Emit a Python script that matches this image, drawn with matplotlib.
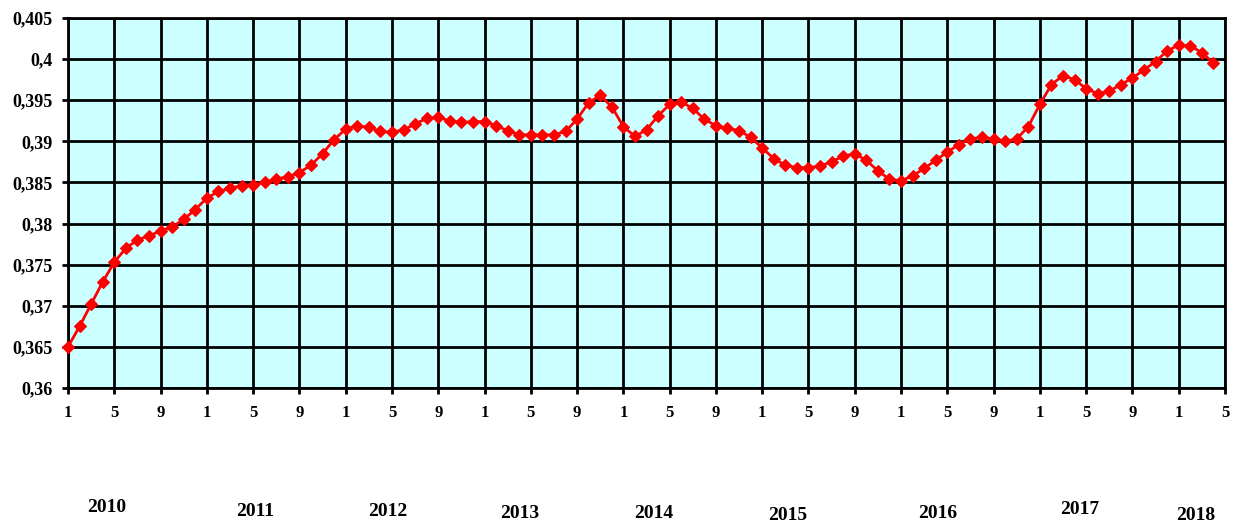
import matplotlib
matplotlib.use("Agg")
import matplotlib.pyplot as plt
import numpy as np

# Monthly values, Jan 2010 .. Apr 2018
values = [
    0.3650, 0.3675, 0.3702, 0.3729, 0.3753, 0.3770, 0.3780, 0.3785, 0.3791, 0.3796, 0.3805, 0.3817,  # 2010
    0.3831, 0.3839, 0.3843, 0.3846, 0.3847, 0.3850, 0.3854, 0.3857, 0.3862, 0.3871, 0.3885, 0.3902,  # 2011
    0.3915, 0.3919, 0.3917, 0.3912, 0.3911, 0.3914, 0.3921, 0.3928, 0.3929, 0.3925, 0.3923, 0.3924,  # 2012
    0.3924, 0.3919, 0.3913, 0.3908, 0.3908, 0.3908, 0.3908, 0.3912, 0.3927, 0.3947, 0.3956, 0.3942,  # 2013
    0.3918, 0.3906, 0.3914, 0.3931, 0.3945, 0.3948, 0.3940, 0.3927, 0.3919, 0.3916, 0.3913, 0.3905,  # 2014
    0.3892, 0.3879, 0.3871, 0.3868, 0.3868, 0.3870, 0.3875, 0.3882, 0.3885, 0.3877, 0.3864, 0.3854,  # 2015
    0.3852, 0.3858, 0.3867, 0.3877, 0.3887, 0.3896, 0.3903, 0.3905, 0.3903, 0.3900, 0.3903, 0.3918,  # 2016
    0.3945, 0.3969, 0.3980, 0.3975, 0.3964, 0.3958, 0.3961, 0.3969, 0.3977, 0.3987, 0.3997, 0.4010,  # 2017
    0.4017, 0.4016, 0.4008, 0.3995,                                                                  # 2018
]
n_months = 101  # Jan 2010 .. May 2018 on the axis
month_tick_labels = ["1", "5", "9"] * 8 + ["1", "5"]
y_ticks = [0.36, 0.365, 0.37, 0.375, 0.38, 0.385, 0.39, 0.395, 0.4, 0.405]
y_tick_labels = ["0,36", "0,365", "0,37", "0,375", "0,38", "0,385", "0,39", "0,395", "0,4", "0,405"]
years = ["2010", "2011", "2012", "2013", "2014", "2015", "2016", "2017", "2018"]

W, H = 1242, 524
fig = plt.figure(figsize=(W / 100, H / 100), dpi=100)
ax = fig.add_axes([68 / W, 1 - 388 / H, (1225 - 68) / W, (388 - 18) / H])
ax.set_facecolor("#CCFFFF")

x = np.arange(len(values))
ax.plot(x, values, color="#FF0000", lw=2, marker="D", ms=6.3,
        mec="#FF0000", mfc="#FF0000", mew=0.8, zorder=3, clip_on=False)

ax.set_xlim(0, n_months - 1)
ax.set_ylim(y_ticks[0], y_ticks[-1])

xt = np.arange(0, n_months, 4)
ax.set_xticks(xt)
ax.set_xticklabels(month_tick_labels)
ax.set_yticks(y_ticks)
ax.set_yticklabels(y_tick_labels)

ax.grid(True, color="black", lw=2, zorder=1)
ax.set_axisbelow(True)
for s in ax.spines.values():
    s.set_color("black")
    s.set_linewidth(2)

ax.tick_params(axis="both", direction="out", length=4.5, width=2, color="black")
ax.tick_params(axis="y", pad=6.5)
ax.tick_params(axis="x", pad=8)
for lab in ax.get_yticklabels():
    lab.set_fontfamily("Liberation Serif")
    lab.set_fontweight("bold")
    lab.set_fontsize(13)
for lab in ax.get_xticklabels():
    lab.set_fontfamily("Liberation Serif")
    lab.set_fontweight("bold")
    lab.set_fontsize(12)

# year labels (layout positions in pixels)
year_pos = [(107, 508), (255, 511), (388, 512), (520, 514), (654, 513),
            (788, 516), (938, 513), (1080, 510), (1196, 515)]
for yr, (px, py) in zip(years, year_pos):
    fig.text(px / W, 1 - py / H, yr, ha="center", va="center",
             fontfamily="Liberation Serif", fontweight="bold", fontsize=14)

fig.savefig("out.png", dpi=100)
